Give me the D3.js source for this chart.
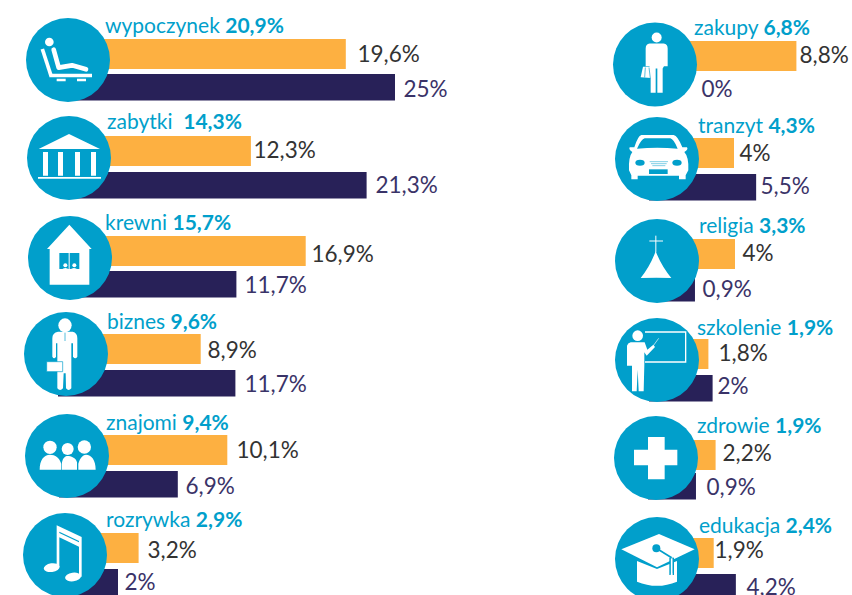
<!DOCTYPE html>
<html><head><meta charset="utf-8">
<style>html,body{margin:0;padding:0;background:#fff;overflow:hidden}svg{display:block}text{font-family:Lato,sans-serif}</style>
<script src="https://cdn.jsdelivr.net/npm/d3@7/dist/d3.min.js"></script>
</head><body><svg id="c" width="852" height="595"></svg>
<script>
// ---- data ----
const categories = ["wypoczynek","zabytki ","krewni","biznes","znajomi","rozrywka","zakupy","tranzyt","religia","szkolenie","zdrowie","edukacja"];
const shares     = ["20,9%","14,3%","15,7%","9,6%","9,4%","2,9%","6,8%","4,3%","3,3%","1,9%","1,9%","2,4%"];
const orangeValues = [19.6,12.3,16.9,8.9,10.1,3.2,8.8,4,4,1.8,2.2,1.9];
const navyValues   = [25,21.3,11.7,11.7,6.9,2,0,5.5,0.9,2,0.9,4.2];
const orangeLabels = ["19,6%","12,3%","16,9%","8,9%","10,1%","3,2%","8,8%","4%","4%","1,8%","2,2%","1,9%"];
const navyLabels   = ["25%","21,3%","11,7%","11,7%","6,9%","2%","0%","5,5%","0,9%","2%","0,9%","4,2%"];
const icons = ["lounger","temple","house","business","people","music","shopper","car","church","teacher","plus","cap"];

// ---- layout (hand-placed infographic rows) ----
const circleX = [68,69,70,66,67,65,655,657,657,657,656,657];
const circleY = [60,158,258,354,456,555,64.5,159,261,360,458,559];
const orangeTop = [39,136,236,334,435,533,41,138,239,339,440,538];
const navyTop = [74,172,271,370,471,569,0,174,275,375,473,574];
const navyH = 26.5, orangeH = 30;
const orangeNudge = [0,0,-5,-6,5,6,0,0,1,3,5,7];
const navyNudge = [-1,15,0,-1,-1,-2,0,0,0,3,1,-3];
const catX = [105,107,105,107,106,106,694,698,699,697,697,699];
const catY = [33,129,230,329,430,527,35,133,233,335,433,533];
const orangeLabelX = [357.5,253.5,311.5,207.5,236.5,147.5,799.5,739.5,742.5,718.5,722.5,714.5];
const orangeLabelY = [62,158,262,358,458,558,63,161,261,361,461,558];
const navyLabelX = [403.5,375.5,244.5,244.5,185.5,124.5,701.5,760.5,702.5,717.5,706.5,746.5];
const navyLabelY = [97,193,293,392,494,590,97,194,297,394,495,595];

const xOrangeL = d3.scaleLinear().domain([0,25]).range([91,416]);
const xNavyL   = d3.scaleLinear().domain([0,25]).range([96,396]);
const xOrangeR = d3.scaleLinear().domain([0,10]).range([682,812]);
const xNavyR   = d3.scaleLinear().domain([0,10]).range([683,816]);

const BLUE="#019fcb", ORANGE="#fdb041", NAVY="#282158";
const svg = d3.select("#c");
const idx = d3.range(categories.length);

// bars
svg.selectAll("rect.o").data(idx).join("rect").attr("class","o")
  .attr("x",i=>circleX[i]-8).attr("y",i=>orangeTop[i]).attr("height",orangeH)
  .attr("width",i=>(i<6?xOrangeL:xOrangeR)(orangeValues[i])+orangeNudge[i]-circleX[i]+8)
  .attr("fill",ORANGE);
svg.selectAll("rect.n").data(idx.filter(i=>navyValues[i]>0)).join("rect").attr("class","n")
  .attr("x",i=>circleX[i]-8).attr("y",i=>navyTop[i]).attr("height",navyH)
  .attr("width",i=>(i<6?xNavyL:xNavyR)(navyValues[i])+navyNudge[i]-circleX[i]+8)
  .attr("fill",NAVY);

// value labels
svg.selectAll("text.ol").data(idx).join("text").attr("class","ol")
  .attr("x",i=>orangeLabelX[i]).attr("y",i=>orangeLabelY[i]).attr("font-size",22.5).attr("fill","#333")
  .text(i=>orangeLabels[i]);
svg.selectAll("text.nl").data(idx).join("text").attr("class","nl")
  .attr("x",i=>navyLabelX[i]).attr("y",i=>navyLabelY[i]).attr("font-size",22.5).attr("fill","#3a3368")
  .text(i=>navyLabels[i]);

// category labels
const cat = svg.selectAll("text.cat").data(idx).join("text").attr("class","cat")
  .attr("x",i=>catX[i]).attr("y",i=>catY[i]).attr("font-size",21).attr("fill",BLUE).attr("xml:space","preserve").style("white-space","pre");
cat.append("tspan").text(i=>categories[i]+" ");
cat.append("tspan").attr("font-weight",700).text(i=>shares[i]);

// icons: drawn in 3x-units around the circle centre
const W_="#fff";
const iconDraw = {
  lounger(g){ g.attr("transform",t=>t+" translate(-204,-181)");
    g.append("circle").attr("cx",148).attr("cy",127).attr("r",13).attr("fill",W_);
    g.append("path").attr("d","M161,150L176,204L216,197L258,209").attr("fill","none").attr("stroke",W_).attr("stroke-width",14).attr("stroke-linecap","round").attr("stroke-linejoin","round");
    g.append("path").attr("d","M127,148L153,228").attr("stroke",W_).attr("stroke-width",11);
    g.append("path").attr("d","M148,222h128v11h-128zM170,237h27v8h-27zM231,237h27v8h-27z").attr("fill",W_);
  },
  temple(g){ g.attr("transform",t=>t+" translate(-207,-474)");
    g.append("path").attr("d","M116,447L207,402L300,447ZM129,456h15v71h-15zM174,456h15v71h-15zM225,456h15v71h-15zM273,456h15v71h-15zM114,531h189v5h-189z").attr("fill",W_);
  },
  house(g){ g.attr("transform",t=>t+" translate(-209,-145)");
    g.append("path").attr("d","M207,45L274,118H267V225H148V118H140Z").attr("fill",W_);
    g.append("path").attr("d","M177,130h60v48h-60z").attr("fill",BLUE);
    g.append("path").attr("d","M205,130h3v50h-3zM183,180q12,-10 24,0zM209,180q12,-10 24,0z").attr("fill",W_);
    g.append("circle").attr("cx",195).attr("cy",167).attr("r",6).attr("fill",W_);
    g.append("circle").attr("cx",222).attr("cy",167).attr("r",6).attr("fill",W_);
  },
  business(g){ g.attr("transform",t=>t+" translate(-198,-432)");
    g.append("ellipse").attr("cx",195).attr("cy",346).attr("rx",20).attr("ry",21).attr("fill",W_);
    g.append("path").attr("d","M174,365L218,365Q232,368 232,385L232,440Q226,450 219,440L219,400L214,400L214,535Q206,545 198,535L197,490L191,490L189,535Q180,545 172,535L172,400L168,400L168,440Q162,450 157,440L157,385Q157,368 174,365Z").attr("fill",W_);
    g.append("path").attr("d","M140,455h48v30h-48z").attr("fill",W_).attr("stroke",BLUE).attr("stroke-width",2);
    g.append("path").attr("d","M195,368v25").attr("stroke",BLUE).attr("stroke-width",2);
  },
  people(g){ g.attr("transform",t=>t+" translate(-201,-153)");
    g.append("circle").attr("cx",150).attr("cy",127).attr("r",20).attr("fill",W_);
    g.append("circle").attr("cx",203).attr("cy",132).attr("r",18).attr("fill",W_);
    g.append("circle").attr("cx",253).attr("cy",126).attr("r",20).attr("fill",W_);
    g.append("path").attr("d","M119,194C119,165 132,149 150,149C166,149 178,158 184,176L184,194ZM186,194L186,172C189,158 196,153 203,153C212,153 228,158 231,172L231,194ZM235,194L235,176C240,158 250,149 258,149C274,149 287,165 287,194Z").attr("fill",W_);
  },
  music(g){ g.attr("transform",t=>t+" translate(-195,-451)");
    g.append("path").attr("d","M170,362L245,397V516H237V426L178,398V488H170Z").attr("fill",W_);
    g.append("path").attr("d","M178,381L237,409V413L178,385Z").attr("fill",BLUE);
    g.append("ellipse").attr("cx",155).attr("cy",489).attr("rx",24).attr("ry",13).attr("transform","rotate(-8 155 489)").attr("fill",W_);
    g.append("ellipse").attr("cx",219).attr("cy",517).attr("rx",24).attr("ry",13).attr("transform","rotate(-8 219 517)").attr("fill",W_);
  },
  shopper(g){ g.attr("transform",t=>t+" translate(-166,-193)");
    g.append("circle").attr("cx",171).attr("cy",112).attr("r",15).attr("fill",W_);
    g.append("path").attr("d","M150,130H192Q204,132 204,145V198H193L189,205V278H173V205H168V278H153V205L149,198H138V145Q138,132 150,130Z").attr("fill",W_);
    g.append("path").attr("d","M130,200H155L165,234L123,231Z").attr("fill",W_);
    g.append("path").attr("d","M137,202L135,232M148,202L152,234").attr("stroke",BLUE).attr("stroke-width",2);
  },
  car(g){ g.attr("transform",t=>t+" translate(-172,-476)");
    g.append("path").attr("d","M125,404H222Q234,406 248,441H262Q267,448 254,455Q268,470 266,510L258,525V537H238V526H114V537H95V525L88,510Q86,470 98,455Q86,448 90,441H104Q115,406 125,404Z").attr("fill",W_);
    g.append("path").attr("d","M135,414H212Q222,416 234,445Q172,440 112,445Q125,416 135,414Z").attr("fill",BLUE);
    g.append("ellipse").attr("cx",121).attr("cy",487).attr("rx",14).attr("ry",9).attr("fill",BLUE);
    g.append("ellipse").attr("cx",232).attr("cy",487).attr("rx",14).attr("ry",9).attr("fill",BLUE);
    g.append("path").attr("d","M148,507h56v14h-56z").attr("fill",BLUE);
    g.append("path").attr("d","M150,484h55M154,490h47M158,496h39").attr("stroke",BLUE).attr("stroke-width",1.5);
  },
  church(g){ g.attr("transform",t=>t+" translate(-171,-154)");
    g.append("path").attr("d","M167,125Q185,170 214,205Q170,203 122,205Q150,170 167,125Z").attr("fill",W_);
    g.append("path").attr("d","M167.5,78V128M148,94H189").attr("stroke",W_).attr("stroke-width",3);
  },
  teacher(g){ g.attr("transform",t=>t+" translate(-171,-451)");
    g.append("circle").attr("cx",113).attr("cy",378).attr("r",16).attr("fill",W_);
    g.append("path").attr("d","M135,367H257V457H135").attr("fill","none").attr("stroke",W_).attr("stroke-width",4);
    g.append("path").attr("d","M92,398H134L142,420L160,405L165,412L140,438L133,428V465L131,545H116L113,480L110,545H96V468H81V408Q83,400 92,398Z").attr("fill",W_);
    g.append("path").attr("d","M160,408L176,386").attr("stroke",W_).attr("stroke-width",2);
  },
  plus(g){ g.attr("transform",t=>t+" translate(-168,-158)");
    g.append("path").attr("d","M144,95H194V133H232V180H194V222H144V180H102V133H144Z").attr("fill",W_);
  },
  cap(g){ g.attr("transform",t=>t+" translate(-172,-462)");
    g.append("path").attr("d","M112,468L172,492L232,468V530Q172,555 112,530Z").attr("fill",W_);
    g.append("path").attr("d","M65,433L178,387L285,433L172,487Z").attr("fill",W_);
    g.append("path").attr("d","M170,430L216,458").attr("stroke",BLUE).attr("stroke-width",5);
    g.append("circle").attr("cx",170).attr("cy",430).attr("r",12).attr("fill",BLUE);
    g.append("path").attr("d","M216,458V510").attr("stroke",BLUE).attr("stroke-width",14);
    g.append("path").attr("d","M216,460V508").attr("stroke",W_).attr("stroke-width",5);
    g.append("path").attr("d","M208,524L216,500L224,524Z").attr("fill",W_);
  }
};
idx.forEach(i=>{
  svg.append("circle").attr("cx",circleX[i]).attr("cy",circleY[i]).attr("r",42).attr("fill",BLUE);
  const base = `translate(${circleX[i]},${circleY[i]}) scale(0.3333)`;
  const g = svg.append("g").attr("transform",base);
  const proxy = { attr(k,f){ g.attr("transform",f(base)); return this; }, append(n){ return g.append(n); } };
  iconDraw[icons[i]](proxy);
});
</script></body></html>
